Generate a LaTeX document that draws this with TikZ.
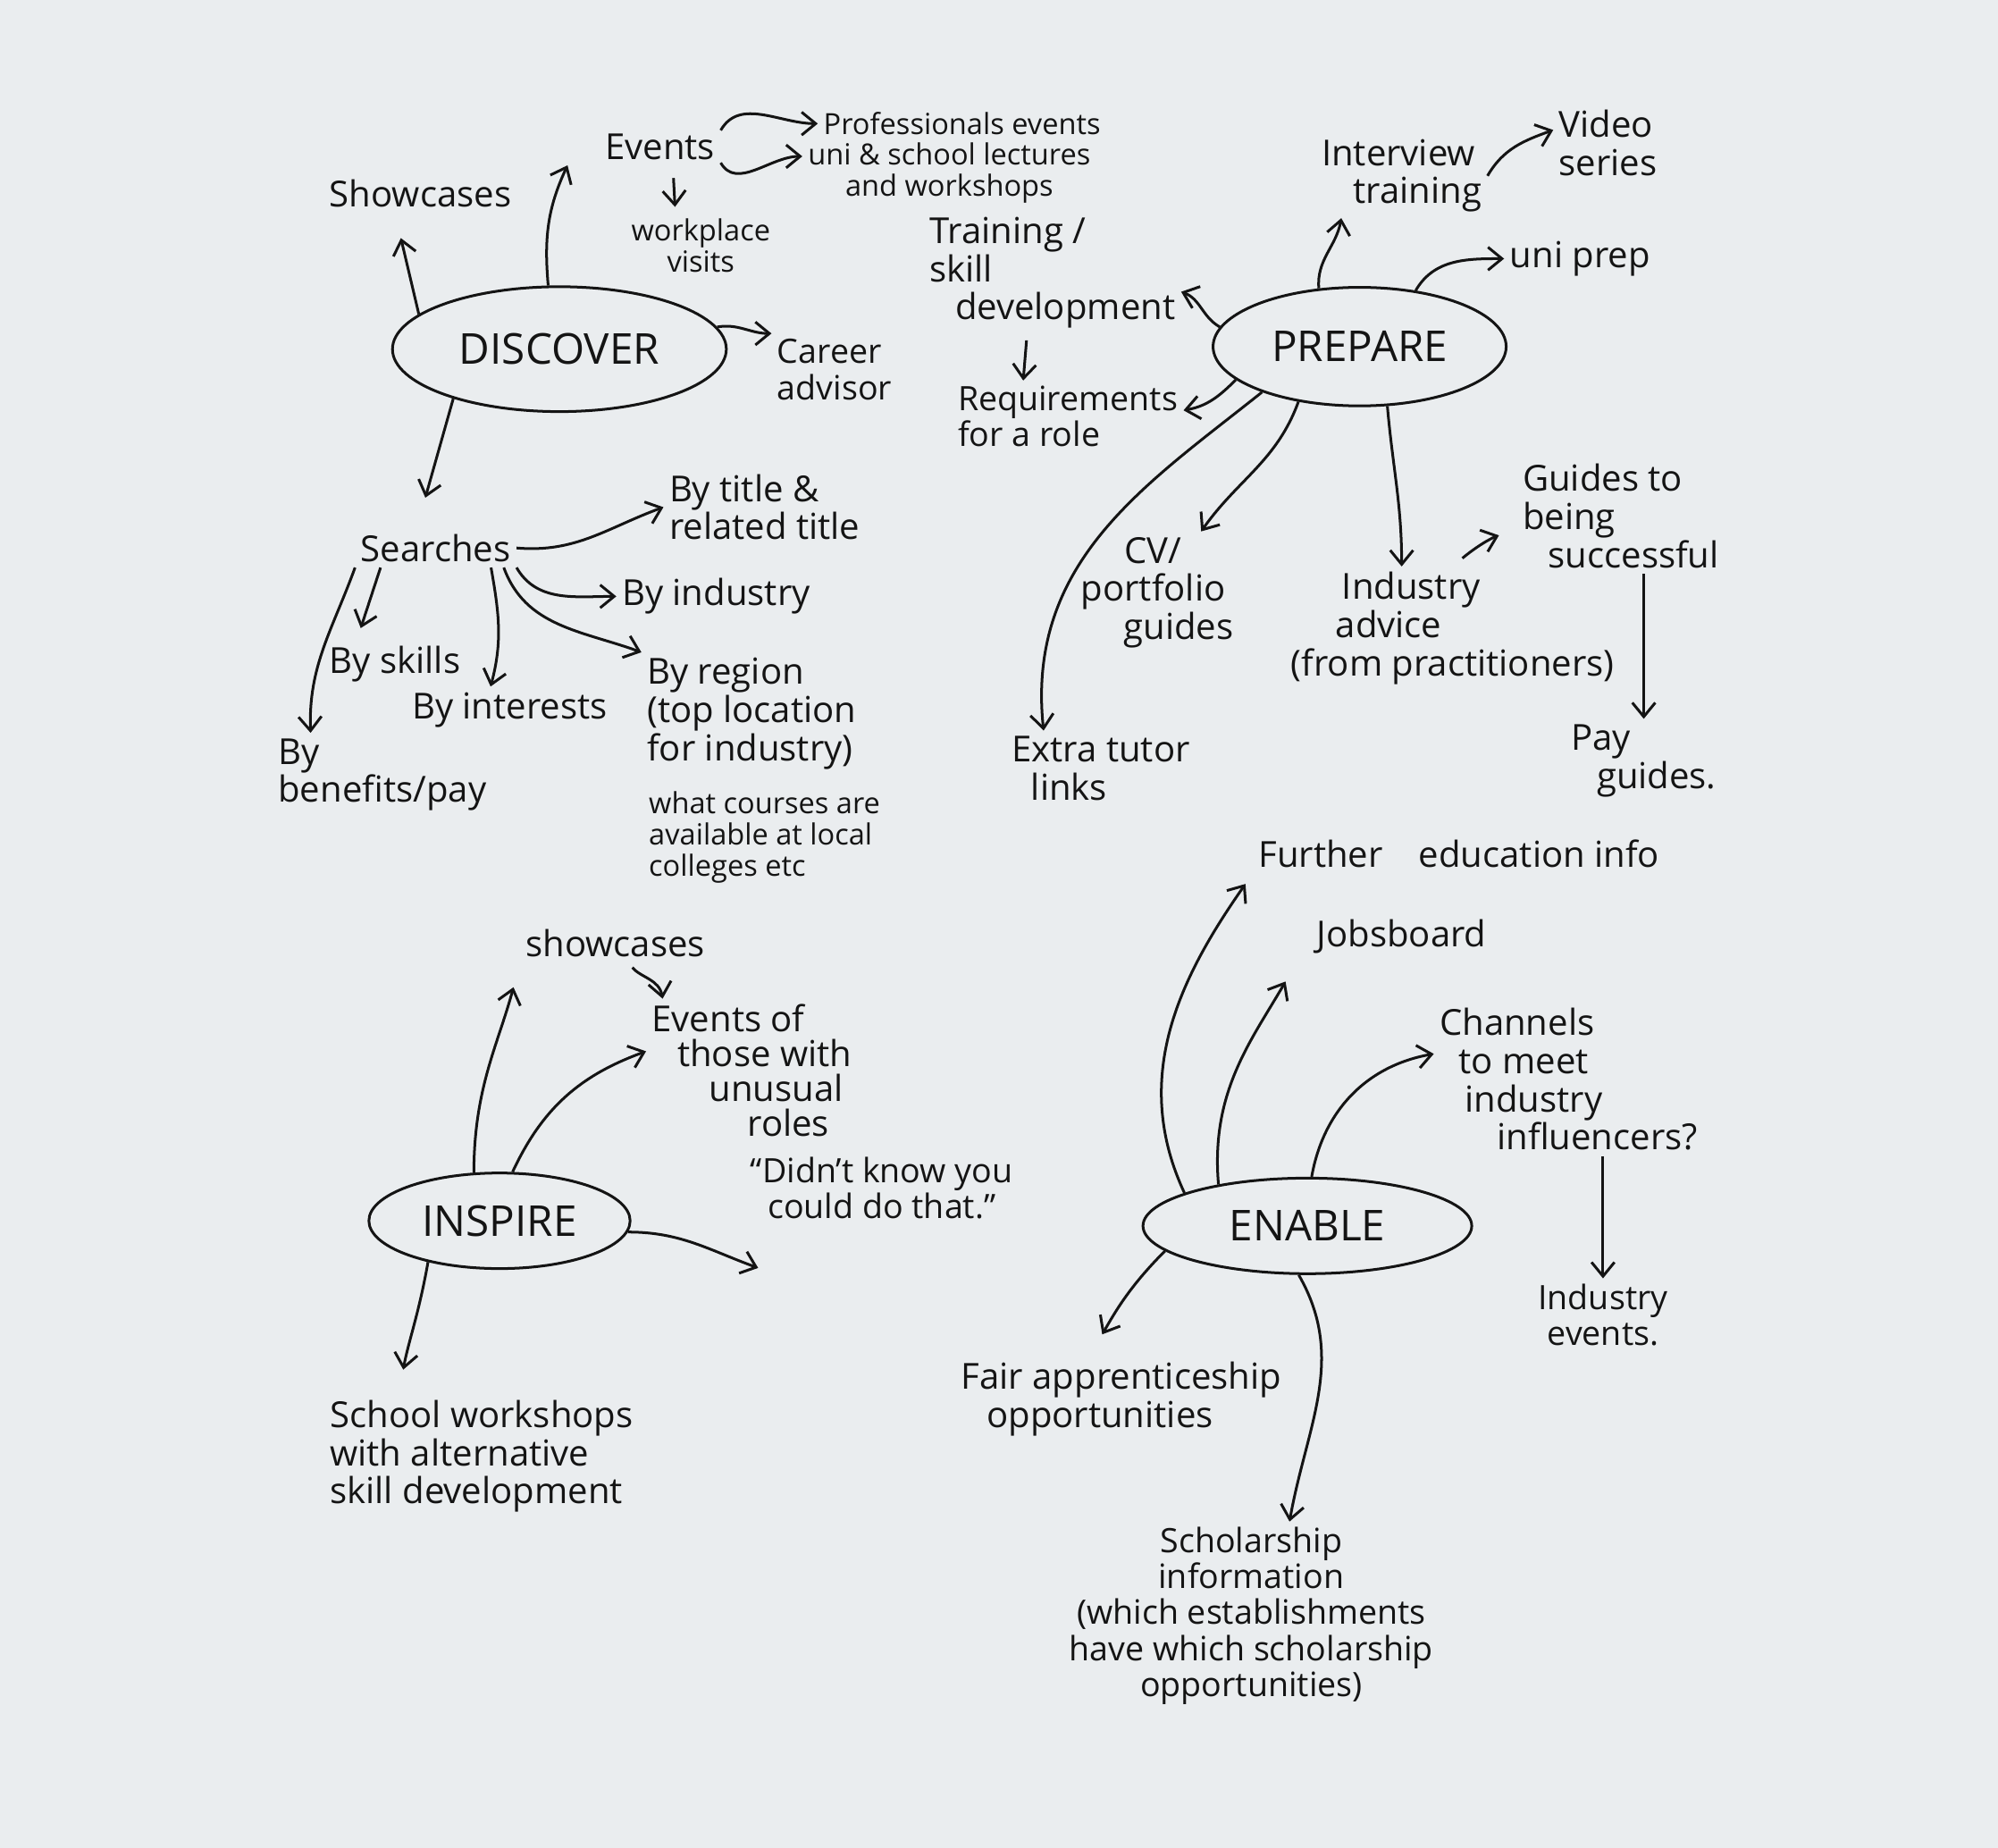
\documentclass[tikz,border=0pt]{standalone}
\usepackage{fontspec}
\setmainfont{Open Sans}
\usepackage{tikz}
\usetikzlibrary{arrows.meta, shapes}
\definecolor{board}{RGB}{234,237,239}
\definecolor{ink}{RGB}{20,20,20}

\begin{document}
\begin{tikzpicture}[x=0.2mm, y=-0.2mm,
    hub/.style={ellipse, draw, line width=1.2pt, font=\fontsize{19}{22}\selectfont},
    small/.style={font=\fontsize{13}{14}\selectfont},
    mid/.style={font=\fontsize{15}{16}\selectfont},
    >={Straight Barb[length=2.2mm, width=3.6mm]}]
\useasboundingbox (0,0) rectangle (1568,1450);
\fill[board] (0,0) rectangle (1568,1450);
\begin{scope}[color=ink, line width=1.2pt,
    every node/.style={align=center, inner sep=2pt, font=\fontsize{16}{17}\selectfont}]
    % discover
    \node[hub, minimum width=5.24cm, minimum height=1.96cm] (d) at (439,274) {DISCOVER};
    \node (d1) at (330,152) {Showcases};
    \node (d2) at (518,115) {Events};
    \node[small] (d21) at (755,97) {Professionals events};
    \node[small] (d22) at (745,136) {uni \& school lectures\\and workshops};
    \node[small] (d23) at (550,193) {workplace\\visits};
    \node[mid, align=left] (d3) at (655,290) {Career\\advisor};
    \node (d4) at (342,430) {Searches};
    \node[align=left] (d41) at (600,398) {By title \&\\related title};
    \node (d42) at (562,468) {By industry};
    \node[align=left] (d43) at (590,560) {By region\\(top location\\for industry)};
    \node[small, align=left] (d44) at (600,657) {what courses are\\available at local\\colleges etc};
    \node (d45) at (400,557) {By interests};
    \node (d46) at (310,521) {By skills};
    \node[align=left] (d47) at (300,608) {By\\benefits/pay};
    \draw[->, shorten >=4mm] (d.166) -- ([xshift=-4mm]d1.south);
    \draw[->] (d.100) to[out=95, in=-115] ([xshift=-5mm]d2.south west);
    \draw[->] (d2.15) to[out=60, in=180] (d21.west);
    \draw[->] (d2.-15) to[out=-60, in=180] ([yshift=-3mm]d22.north west);
    \draw[->, shorten <=2mm, shorten >=1mm] ([xshift=2mm]d2.south) -- ([xshift=-4mm]d23.north);
    \draw[->] (d.8) to[out=10, in=180] (d3.north west);
    \draw[->, shorten >=5mm] (d.205) -- ([xshift=-3mm]d4.north);
    \draw[->] (d4.east) to[out=-5, in=200] (d41.west);
    \draw[->] (d4.south east) to[out=-60, in=180] (d42.west);
    \draw[->] ([xshift=-2mm]d4.south east) to[out=-70, in=160] (d43.north west);
    \draw[->] ([xshift=-4mm]d4.south east) to[out=-80, in=75] ([xshift=-3mm]d45.north);
    \draw[->, shorten >=2mm] ([xshift=4mm]d4.south west) -- ([xshift=-6mm]d46.north);
    \draw[->] (d4.south west) to[out=-110, in=92] ([xshift=6mm]d47.north west);

    % prepare
    \node[hub, minimum width=4.6cm, minimum height=1.86cm] (p) at (1067,272) {PREPARE};
    \node[align=left] (p1) at (1100,138) {Interview\\\hspace*{5mm}training};
    \node[align=left] (p2) at (1262,112) {Video\\series};
    \node (p3) at (1240,203) {uni prep};
    \node[align=left] (p4) at (826,214) {Training /\\skill\\\hspace*{4mm}development};
    \node[mid, align=left] (p5) at (838,327) {Requirements\\for a role};
    \node[align=left] (p6) at (864,603) {Extra tutor\\\hspace*{3mm}links};
    \node (p7) at (905,465) {CV/\\portfolio\\\hspace*{8mm}guides};
    \node[align=left] (p8) at (1140,493) {\hspace*{8mm}Industry\\\hspace*{7mm}advice\\(from practitioners)};
    \node[align=left] (p9) at (1272,405) {Guides to\\being\\\hspace*{4mm}successful};
    \node[align=left] (p10) at (1290,597) {Pay\\\hspace*{4mm}guides.};
    \draw[->] (p.125) to[out=95, in=-100] ([xshift=4mm]p1.south west);
    \draw[->] (p1.east) to[out=60, in=200] ([yshift=2mm]p2.west);
    \draw[->] (p.45) to[out=60, in=180] (p3.west);
    \draw[->] (p.172) to[out=150, in=-20] ([yshift=-3mm]p4.east);
    \draw[->, shorten <=1mm] ([xshift=-4mm]p4.south) -- ([xshift=-7mm]p5.north);
    \draw[->] (p.195) to[out=225, in=10] ([yshift=1mm]p5.east);
    \draw[->] (p.205) .. controls (900,380) and (805,440) .. ([xshift=-9mm]p6.north);
    \draw[->] (p.222) to[out=-110, in=55] ([xshift=-6mm]p7.north east);
    \draw[->] (p.295) to[out=-85, in=90] ([xshift=-8mm]p8.north);
    \draw[->, shorten <=2mm, shorten >=3mm] (p8.north) to[out=40, in=200] ([yshift=-2mm]p9.west);
    \draw[->] (p9.south -| p10.north) -- (p10.north);

    % inspire
    \node[hub, minimum width=4.1cm, minimum height=1.5cm] (i) at (392,958) {INSPIRE};
    \node (i1) at (483,740) {showcases};
    \node[align=left, font=\fontsize{16}{15.5}\selectfont] (i2) at (590,840) {Events of\\\hspace*{4mm}those with\\\hspace*{9mm}unusual\\\hspace*{15mm}roles};
    \node[mid] (i3) at (692,932) {``Didn't know you\\could do that.''};
    \node[align=left] (i4) at (378,1143) {School workshops\\with alternative\\skill development};
    \coordinate (i5) at (595,995);
    \draw[->, shorten >=4mm] (i.118) to[out=90, in=-105] (i1.south west);
    \draw[->, shorten <=1mm] ([xshift=2mm]i1.south) to[out=-50, in=100] ([xshift=-14mm]i2.north);
    \draw[->] (i.75) to[out=65, in=200] ([yshift=3mm]i2.west);
    \draw[->] (i.-5) to[out=0, in=160] (i5);
    \draw[->, shorten >=4mm] (i.210) to[out=-100, in=80] ([xshift=-13mm]i4.north);

    % enable
    \node[hub, minimum width=5.16cm, minimum height=1.5cm] (e) at (1026,962) {ENABLE};
    \node (e1) at (1145,670) {Further\quad education info};
    \node (e2) at (1100,735) {Jobsboard};
    \node[align=left] (e3) at (1231,847) {Channels\\\hspace*{3mm}to meet\\\hspace*{4mm}industry\\\hspace*{9mm}influencers?};
    \node[mid] (e4) at (1258,1032) {Industry\\events.};
    \node[align=left] (e5) at (880,1098) {Fair apprenticeship\\\hspace*{4mm}opportunities};
    \node[mid] (e6) at (982,1268) {Scholarship\\information\\(which establishments\\have which scholarship\\opportunities)};
    \draw[->, shorten >=2mm] (e.165) to[out=115, in=-125] (e1.south west);
    \draw[->, shorten >=4mm] (e.155) to[out=95, in=-120] ([xshift=-2mm]e2.south west);
    \draw[->] (e.85) to[out=80, in=190] ([yshift=4mm]e3.west);
    \draw[->] (e4.north |- e3.south) -- (e4.north);
    \draw[->, shorten >=4mm] (e.190) to[out=225, in=60] ([xshift=-5mm]e5.north);
    \draw[->] (e.-100) to[out=-60, in=80] ([xshift=6mm]e6.north);
\end{scope}
\end{tikzpicture}
\end{document}
